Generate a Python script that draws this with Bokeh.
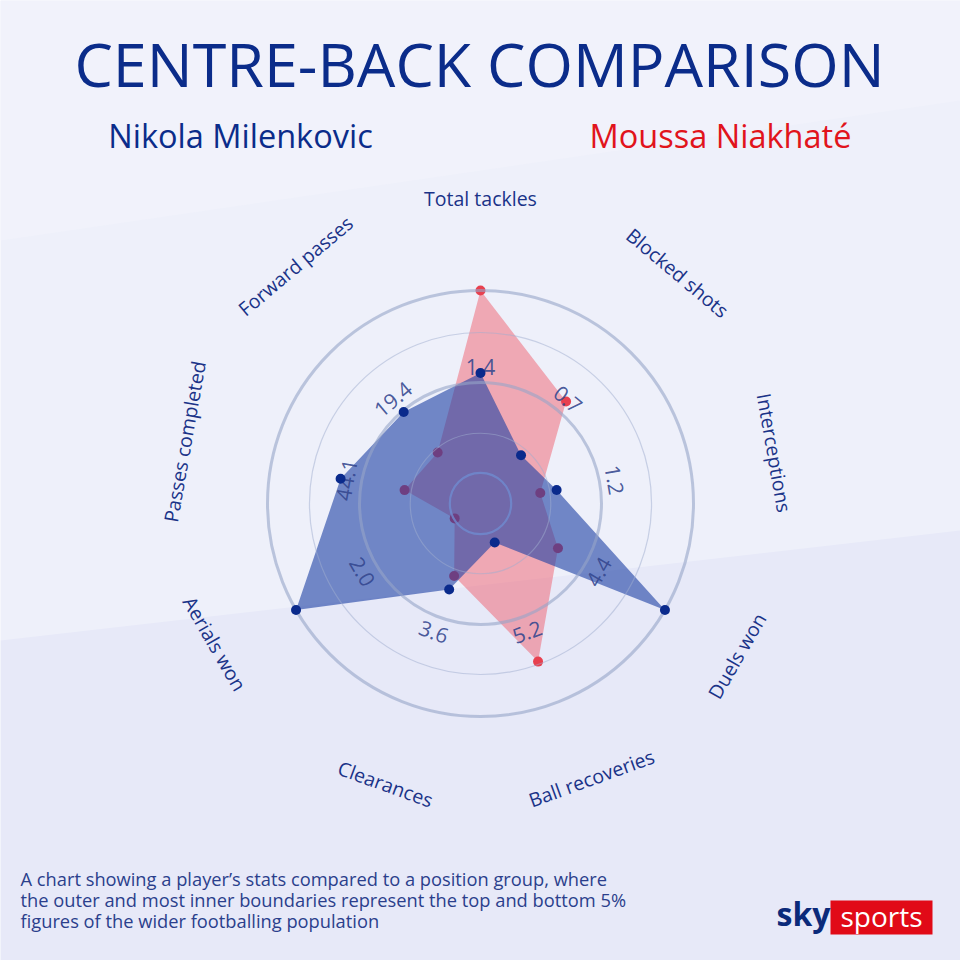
import math
from bokeh.plotting import figure
from bokeh.core.properties import value
from bokeh.embed import file_html
from bokeh.resources import INLINE

# ---------------- data ----------------
categories = ["Total tackles", "Blocked shots", "Interceptions", "Duels won",
              "Ball recoveries", "Clearances", "Aerials won",
              "Passes completed", "Forward passes"]
avg_labels = ["1.4", "0.7", "1.2", "4.4", "5.2", "3.6", "2.0", "44.1", "19.4"]
# radial position of each stat (0 = centre, 1 = outer boundary / top 5%)
milenkovic = [0.613, 0.296, 0.363, 1.0, 0.195, 0.43, 1.0, 0.667, 0.561]
niakhate = [1.0, 0.625, 0.285, 0.42, 0.79, 0.362, 0.14, 0.362, 0.313]
ring_levels = [0.144, 0.33, 0.568, 0.803, 1.0]
player_names = ["Nikola Milenkovic", "Moussa Niakhaté"]
title_text = "CENTRE-BACK COMPARISON"
footnote = ["A chart showing a player\u2019s stats compared to a position group,  where",
            "the outer and most inner boundaries represent the top  and bottom 5%",
            "figures of the wider footballing population"]

# ---------------- geometry / style ----------------
W = H = 960
CX, CY = 480, 457          # centre of the radar (y measured upwards)
R = 213                    # pixel radius of the outer boundary
FONT = value("Open Sans")
BASE_FIX = 0.38            # baseline compensation (em) for alphabetic text
label_r = [1.43, 1.425, 1.40, 1.40, 1.39, 1.39, 1.41, 1.42, 1.415]
label_nudge = [0, -0.5, -0.2, -0.7, 2.0, 1.3, -2.2, -1.8, -2.1]   # degrees

n = len(categories)
angles = [math.radians(90 - 40 * i) for i in range(n)]


def polar(vals, angs=angles, rad_scale=R):
    xs = [CX + v * rad_scale * math.cos(a) for v, a in zip(vals, angs)]
    ys = [CY + v * rad_scale * math.sin(a) for v, a in zip(vals, angs)]
    return xs, ys


def rot(a):
    return a - math.pi / 2 if math.sin(a) >= 0 else a + math.pi / 2


def by_top(y_from_top, size):
    return H - y_from_top + BASE_FIX * size


p = figure(width=W, height=H, x_range=(0, W), y_range=(0, H),
           x_axis_type=None, y_axis_type=None, toolbar_location=None,
           output_backend="svg", min_border=0)
p.outline_line_color = None
p.background_fill_color = "#eef0fa"
p.border_fill_color = "#eef0fa"

# subtle background bands
p.patch([0, 960, 960, 0], [320, 430, 0, 0], fill_color="#e7e9f8", line_color=None)
p.patch([0, 960, 960, 0], [720, 860, 960, 960], fill_color="#f1f2fb", line_color=None)

# red series (underneath)
rx, ry = polar(niakhate)
p.patch(rx, ry, fill_color="#f0505f", fill_alpha=0.45, line_color=None)
p.scatter(rx, ry, size=10, fill_color="#e8404f", line_color=None)

# blue series
bx, by = polar(milenkovic)
p.patch(bx, by, fill_color="#1d3fa3", fill_alpha=0.6, line_color=None)

# rings on top, semi-transparent
ring_w = [2.2, 1.2, 3.0, 1.2, 3.0]
ring_c = ["#6f8bd0", "#9fadd0", "#96a5c8", "#9fadd0", "#96a5c8"]
ring_a = [0.8, 0.5, 0.6, 0.5, 0.6]
for lvl, w, c, a in zip(ring_levels, ring_w, ring_c, ring_a):
    p.circle(x=CX, y=CY, radius=lvl * R, fill_color=None,
             line_color=c, line_width=w, line_alpha=a)

# average value labels
vx, vy = polar([0.64] * n)
p.text(x=vx, y=vy, text=avg_labels, angle=[rot(a) for a in angles],
       text_font=FONT, text_font_size="21px", text_color="#34478f",
       text_alpha=0.9, text_align="center", text_baseline="middle")

p.scatter(bx, by, size=10, fill_color="#0a2a8c", line_color=None)

# category labels
lab_angles = [a + math.radians(d) for a, d in zip(angles, label_nudge)]
cx_, cy_ = polar(label_r, lab_angles)
p.text(x=cx_, y=cy_, text=categories, angle=[rot(a) for a in angles],
       text_font=FONT, text_font_size="19.5px", text_color="#1a3388",
       text_align="center", text_baseline="middle")

# title & names
p.text(x=[479], y=[by_top(86, 61)], text=[title_text], text_font=FONT,
       text_font_size="61px", text_color="#0b2c8a", text_align="center",
       text_baseline="alphabetic")
p.text(x=[240, 720], y=[by_top(147, 32.5)] * 2, text=player_names, text_font=FONT,
       text_font_size="32.5px", text_color=["#0b2c8a", "#e1141c"],
       text_align="center", text_baseline="alphabetic")

# footnote
p.text(x=[20, 20, 20], y=[by_top(885, 18.3), by_top(906, 18.3), by_top(926.5, 18.3)],
       text=footnote, text_font=FONT, text_font_size="18.3px", text_color="#2b3f8c",
       text_align="left", text_baseline="alphabetic")

# sky sports logo
p.quad(left=[830], right=[932], bottom=[H - 934], top=[H - 900],
       fill_color="#e10a17", line_color=None)
p.text(x=[803], y=[by_top(925, 32)], text=["sky"], text_font=FONT,
       text_font_size="32px", text_font_style="bold", text_color="#0b2a7a",
       text_align="center", text_baseline="alphabetic")
p.text(x=[881], y=[by_top(926, 28)], text=["sports"], text_font=FONT,
       text_font_size="28px", text_color="white",
       text_align="center", text_baseline="alphabetic")

open("out.html", "w").write(file_html(p, INLINE))
